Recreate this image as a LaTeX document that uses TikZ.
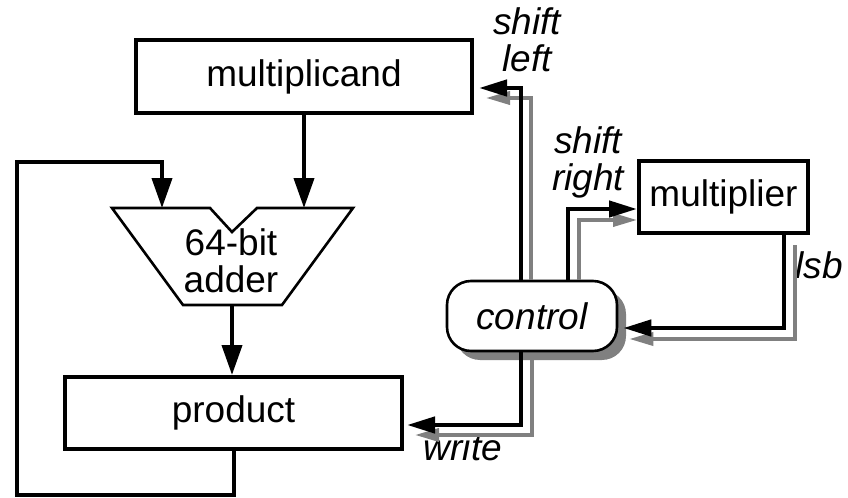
\documentclass[tikz,border=0pt]{standalone}
\usepackage{fontspec}
\setmainfont{Liberation Sans}
\usetikzlibrary{arrows.meta, shadows}

\begin{document}
\begin{tikzpicture}[x=0.5pt, y=-0.5pt, font=\fontsize{18.5}{18.5}\selectfont]
  \tikzstyle{reg} = [rectangle, draw=black, line width=2pt, fill=white, inner sep=0pt]
  \tikzstyle{lbl} = [font=\fontsize{18.5}{18.5}\selectfont\itshape, align=center, inner sep=0pt]
  \tikzstyle{bus} = [line width=2pt, -{Triangle[length=15pt, width=10pt]}]
  \tikzstyle{sig} = [line width=2.2pt, -{Triangle[length=14pt, width=8pt]}]
  \tikzstyle{sigshadow} = [line width=1.8pt, draw=gray, -{Triangle[length=12pt, width=6.5pt]}]

  \useasboundingbox (0,0) rectangle (848,498);

  % Registros
  \node[reg, minimum width=168pt, minimum height=36.5pt] (mcand) at (304,76.5) {multiplicand};
  \node[reg, minimum width=168.5pt, minimum height=36pt] (prod) at (233.5,413) {product};
  \node[reg, minimum width=84.5pt, minimum height=36pt] (mplier) at (723.5,197) {multiplier};

  % Control
  \node[lbl, draw, line width=1.3pt, fill=white, rounded corners=12pt,
    minimum width=85pt, minimum height=35pt,
    drop shadow={shadow xshift=4.5pt, shadow yshift=-4.5pt, fill=gray, opacity=1}] (ctrl) at (532,316) {control};

  % Sumador
  \draw[line width=1.3pt] (112,208) -- (210,208) -- (232,232) -- (257,208) -- (353,208)
    -- (282,305) -- (183,305) -- cycle;
  \node[align=center, inner sep=0pt] (adder) at (231,261) {64-bit\\adder};
  \coordinate (inA) at (162,208);
  \coordinate (inB) at (304,208);
  \coordinate (out) at (232,305);

  % Etiquetas
  \node[lbl] (shl) at (527,40) {shift\\left};
  \node[lbl] (shr) at (588,162) {shift\\right};
  \node[lbl] (lsb) at (819,265) {lsb};
  \node[lbl] (wr) at (463,447) {write};

  % Datos
  \draw[bus] (mcand.south) -- (inB);
  \draw[bus] (out) -- (out |- prod.north);
  \coordinate (fbl) at (17,495);
  \coordinate (fbt) at (17,162);
  \draw[bus] (prod.south) |- (fbl) -- (fbt) -| (inA);

  % Senales de control
  \draw[sigshadow, shorten >=6pt] ([xshift=-0.5pt]ctrl.north) |- ([yshift=-10.75pt]mcand.east);
  \draw[sig, shorten >=2.5pt] ([xshift=-5.5pt]ctrl.north) |- ([yshift=-5.75pt]mcand.east);

  \draw[sigshadow] ([xshift=23.5pt]ctrl.north) |- ([yshift=-11.5pt]mplier.west);
  \draw[sig] ([xshift=18pt]ctrl.north) |- ([yshift=-6pt]mplier.west);

  \draw[sigshadow, shorten >=5.5pt] ([xshift=35.75pt, yshift=-5pt]mplier.south) |- ([yshift=-11.5pt]ctrl.east);
  \draw[sig, shorten >=2.5pt] ([xshift=30.25pt]mplier.south) |- ([yshift=-6pt]ctrl.east);

  \draw[sigshadow, shorten >=5.5pt] ([yshift=-4pt]ctrl.south) |- ([yshift=-11pt]prod.east);
  \draw[sig, shorten >=1.5pt] ([xshift=-5.5pt]ctrl.south) |- ([yshift=-6pt]prod.east);
\end{tikzpicture}
\end{document}
